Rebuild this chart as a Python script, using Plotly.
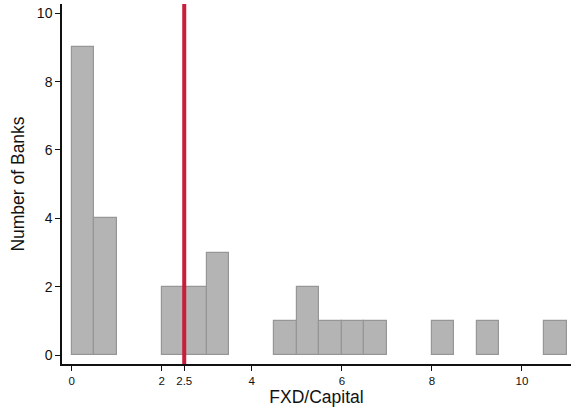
import plotly.graph_objects as go

# Histogram of FXD/Capital: left edge of each 0.5-wide bin and its bank count
bin_left = [0, 0.5, 2, 2.5, 3, 4.5, 5, 5.5, 6, 6.5, 8, 9, 10.5]
counts = [9, 4, 2, 2, 3, 1, 2, 1, 1, 1, 1, 1, 1]
bin_width = 0.5
threshold = 2.5

x_ticks = [0, 2, 2.5, 4, 6, 8, 10]
y_ticks = [0, 2, 4, 6, 8, 10]

fig = go.Figure()
fig.add_trace(go.Bar(
    x=[b + bin_width / 2 for b in bin_left],
    y=counts,
    width=bin_width,
    marker=dict(color="#b5b4b5", line=dict(color="#969696", width=1.2)),
    showlegend=False,
))

fig.add_shape(type="line", x0=threshold, x1=threshold, y0=0, y1=1,
              xref="x", yref="paper", line=dict(color="#c81e3c", width=4))

font = dict(family="Liberation Sans, Arial, sans-serif", color="#111111")
fig.update_layout(
    width=571, height=408,
    margin=dict(l=62, r=0, t=4, b=44),
    plot_bgcolor="white", paper_bgcolor="white",
    bargap=0,
    font=font,
    xaxis=dict(
        range=[-0.215, 11.09], tickvals=x_ticks, ticktext=[str(v) for v in x_ticks],
        showgrid=False, zeroline=False, showline=True, linecolor="#111111", linewidth=1.5,
        ticks="outside", ticklen=5, tickcolor="#111111", tickfont=dict(size=11.5),
        title=dict(text="FXD/Capital", font=dict(size=17.5), standoff=2),
    ),
    yaxis=dict(
        range=[-0.26, 10.27], tickvals=y_ticks,
        showgrid=False, zeroline=False, showline=True, linecolor="#111111", linewidth=1.5,
        ticks="outside", ticklen=5, tickcolor="#111111", tickfont=dict(size=14),
        title=dict(text="Number of Banks", font=dict(size=17.5), standoff=8),
    ),
)

fig.write_html("out.html")
